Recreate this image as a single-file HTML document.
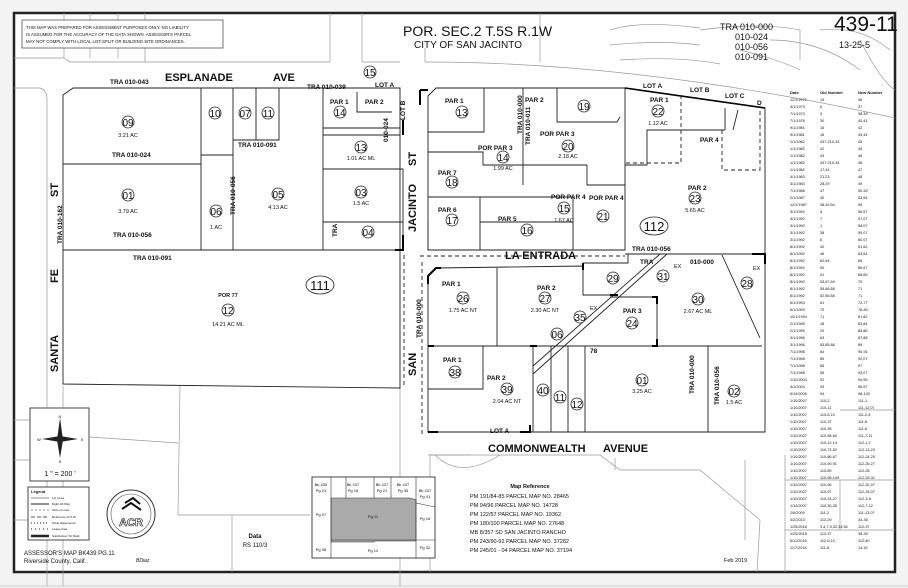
<!DOCTYPE html>
<html><head><meta charset="utf-8"><style>
html,body{margin:0;padding:0;background:#fff}
svg{display:block}
text{font-family:"Liberation Sans",sans-serif;fill:#111}
.b{font-weight:bold}
.s{font-size:4px}
.m{font-size:5.5px}
.n{font-size:10px}
.t{font-size:6.5px;font-weight:bold}
.thin{stroke:#999;stroke-width:.7;fill:none}
.ln{stroke:#222;stroke-width:.9;fill:none}
.hv{stroke:#000;stroke-width:2.5;fill:none}
.ds{stroke:#222;stroke-width:.9;fill:none;stroke-dasharray:4 3}
.c{fill:#fff;stroke:#222;stroke-width:.8}
</style></head><body>
<svg width="908" height="588" viewBox="0 0 908 588" xmlns="http://www.w3.org/2000/svg">
<rect width="908" height="588" fill="#f3f3f3"/>
<rect x="14" y="13" width="881" height="559" fill="#fff" stroke="#222" stroke-width="2.5"/>
<line x1="0" y1="586" x2="908" y2="586" stroke="#ccc"/>

<g class="thin">
<path d="M14,58 H64 V13 M90,13 V58 M118,13 V58 M64,58 L70,62 H145 V13 M145,62 H330 V13 M362,13 V62 H400"/>
<path d="M425,62 Q640,62 895,118"/>
<path d="M425,48 V62 M540,13 V62"/>
<path d="M610,30 Q640,20 700,28 M610,45 Q660,40 700,45 M620,60 Q680,56 720,64 M700,30 Q760,22 800,30 V60 M770,40 Q820,40 860,70 M820,30 Q860,25 890,50 M740,50 Q780,60 800,70 M860,40 Q880,80 895,90"/>
<path d="M14,88 H40 Q47,90 47,100 V586 M14,420 H47 M14,460 H47 M14,520 H47"/>
<path d="M63,386 V586 M180,386 L178,515 M90,437 L178,443 M178,515 H310 M232,515 V572"/>
<path d="M400,388 V586 M430,455 V572 M430,455 H470 M435,455 Q460,480 500,455"/>
<path d="M428,455 H600 L620,470 H700 L760,520 L757,572 M615,458 V470 M745,460 V540 M785,455 V572"/>
<path d="M785,480 H895 M785,530 H895 M840,480 V530 M840,410 H895"/>
</g>

<rect x="22" y="20" width="201" height="28" fill="#fff" stroke="#555" stroke-width=".8"/>
<text x="26" y="29" class="s" style="font-size:4.3px">THIS MAP WAS PREPARED FOR ASSESSMENT PURPOSES ONLY. NO LIABILITY</text>
<text x="26" y="36" class="s" style="font-size:4.3px">IS ASSUMED FOR THE ACCURACY OF THE DATA SHOWN. ASSESSOR'S PARCEL</text>
<text x="26" y="43" class="s" style="font-size:4.3px">MAY NOT COMPLY WITH LOCAL LOT-SPLIT OR BUILDING SITE ORDINANCES.</text>

<text x="403" y="36" style="font-size:14px">POR. SEC.2 T.5S R.1W</text>
<text x="414" y="48" style="font-size:10px">CITY OF SAN JACINTO</text>
<text x="720" y="30" style="font-size:9px">TRA 010-000</text>
<text x="735" y="40" style="font-size:9px">010-024</text>
<text x="735" y="50" style="font-size:9px">010-056</text>
<text x="735" y="60" style="font-size:9px">010-091</text>
<text x="834" y="31" style="font-size:21px">439-11</text>
<text x="839" y="48" style="font-size:9px">13-25-5</text>

<text x="165" y="81" class="b" style="font-size:11px">ESPLANADE</text>
<text x="273" y="81" class="b" style="font-size:11px">AVE</text>
<text x="58" y="197" class="b" style="font-size:11px" transform="rotate(-90 58 197)">ST</text>
<text x="58" y="283" class="b" style="font-size:11px" transform="rotate(-90 58 283)">FE</text>
<text x="58" y="372" class="b" style="font-size:11px" transform="rotate(-90 58 372)">SANTA</text>
<text x="416" y="232" class="b" style="font-size:11px" transform="rotate(-90 416 232)">JACINTO</text>
<text x="416" y="166" class="b" style="font-size:11px" transform="rotate(-90 416 166)">ST</text>
<text x="416" y="376" class="b" style="font-size:11px" transform="rotate(-90 416 376)">SAN</text>
<text x="505" y="259" class="b" style="font-size:11px">LA ENTRADA</text>
<text x="488" y="452" class="b" style="font-size:11px">COMMONWEALTH</text>
<text x="603" y="452" class="b" style="font-size:11px">AVENUE</text>
<line x1="420" y1="256" x2="625" y2="256" class="ds"/>
<line x1="422" y1="262" x2="422" y2="435" class="ds"/>
<line x1="404" y1="255" x2="404" y2="388" class="ds"/>

<g class="ln">
<path d="M63,95 L73,88 H400 V250 H63 Z"/>
<path d="M63,164 H201 M201,88 V250 M201,155 H233 M233,88 V250 M233,140 H279 V88 M256,88 V140 M323,88 V250 M323,128 H400 M323,135 H400 M323,169 H403 V250 M323,222 H403 M357,92 L357,112 H392"/>
<path d="M63,250 V384 L400,388 V250"/>
</g>
<text x="110" y="84" class="t">TRA 010-043</text>
<text x="307" y="89" class="t">TRA 010-039</text>
<text x="112" y="157" class="t">TRA 010-024</text>
<text x="113" y="237" class="t">TRA 010-056</text>
<text x="133" y="260" class="t">TRA 010-091</text>
<text x="238" y="147" class="t">TRA 010-091</text>
<text x="62" y="244" class="t" transform="rotate(-90 62 244)">TRA 010-162</text>
<text x="235" y="215" class="t" transform="rotate(-90 235 215)">TRA 010-056</text>
<text x="337" y="237" class="t" transform="rotate(-90 337 237)">TRA</text>
<text x="388" y="142" class="t" transform="rotate(-90 388 142)">010-024</text>
<text x="405" y="120" class="t" transform="rotate(-90 405 120)">LOT B</text>
<text x="330" y="104" class="t">PAR 1</text>
<text x="365" y="104" class="t">PAR 2</text>
<text x="375" y="87" class="t">LOT A</text>

<g class="c">
<circle cx="128" cy="122" r="6"/><circle cx="215" cy="113" r="6"/><circle cx="245" cy="113" r="6"/><circle cx="268" cy="113" r="6"/>
<circle cx="340" cy="112" r="6"/><circle cx="370" cy="72" r="6"/><circle cx="361" cy="147" r="6"/><circle cx="128" cy="195" r="6"/>
<circle cx="216" cy="211" r="6"/><circle cx="278" cy="194" r="6"/><circle cx="361" cy="192" r="6"/><circle cx="368" cy="232" r="6"/>
<circle cx="228" cy="310" r="6"/>
<ellipse cx="320" cy="285" rx="14" ry="9"/>
</g>
<g class="n" text-anchor="middle">
<text x="128" y="126">09</text><text x="215" y="117">10</text><text x="245" y="117">07</text><text x="268" y="117">11</text>
<text x="340" y="116">14</text><text x="370" y="76">15</text><text x="361" y="151">13</text><text x="128" y="199">01</text>
<text x="216" y="215">06</text><text x="278" y="198">05</text><text x="361" y="196">03</text><text x="368" y="236">04</text>
<text x="228" y="314">12</text><text x="320" y="290" style="font-size:13px">111</text>
</g>
<g class="m" text-anchor="middle">
<text x="128" y="137">3.21 AC</text><text x="128" y="213">3.79 AC</text><text x="216" y="229">1 AC</text><text x="278" y="209">4.13 AC</text>
<text x="361" y="160">1.01 AC ML</text><text x="361" y="205">1.5 AC</text><text x="228" y="297" class="b">POR 77</text><text x="228" y="326">14.21 AC ML</text>
</g>

<g class="ln">
<path d="M428,96 L436,88 H625 V250 H428 Z"/>
<path d="M428,132 H484 V88 M523,88 V165 H587 M557,88 V122 H617 L620,117 M587,165 V185 H625 M428,152 H483 V165 H523 M428,197 H480 V222 H523 M480,197 H573 M428,222 V250 M480,222 V250 M573,197 V250 M523,165 V185 M523,222 H573"/>
<path d="M625,88 L765,108 V254 H625 M625,165 H647 V130 H725 M725,108 V130 M738,110 L733,130"/>
</g>
<path d="M625,88 L765,108" stroke="#000" stroke-width="1.6" fill="none"/>
<g class="ds"><path d="M681,95 V163 H625 M722,130 V170 H760 V110"/></g>
<text x="445" y="103" class="t">PAR 1</text>
<text x="525" y="102" class="t">PAR 2</text>
<text x="478" y="150" class="t">POR PAR 3</text>
<text x="540" y="136" class="t">POR PAR 3</text>
<text x="438" y="175" class="t">PAR 7</text>
<text x="438" y="212" class="t">PAR 6</text>
<text x="498" y="221" class="t">PAR 5</text>
<text x="551" y="199" class="t">POR PAR 4</text>
<text x="589" y="200" class="t">POR PAR 4</text>
<text x="650" y="102" class="t">PAR 1</text>
<text x="700" y="142" class="t">PAR 4</text>
<text x="688" y="190" class="t">PAR 2</text>
<text x="643" y="88" class="t">LOT A</text>
<text x="690" y="92" class="t">LOT B</text>
<text x="725" y="98" class="t">LOT C</text>
<text x="757" y="105" class="t">D</text>
<text x="522" y="134" class="t" transform="rotate(-90 522 134)">TRA 010-000</text>
<text x="530" y="145" class="t" transform="rotate(-90 530 145)">TRA 010-011</text>
<text x="632" y="251" class="t">TRA 010-056</text>

<g class="c">
<circle cx="462" cy="112" r="6"/><circle cx="584" cy="106" r="6"/><circle cx="568" cy="146" r="6"/><circle cx="503" cy="157" r="6"/>
<circle cx="452" cy="182" r="6"/><circle cx="452" cy="220" r="6"/><circle cx="527" cy="230" r="6"/><circle cx="564" cy="208" r="6"/>
<circle cx="603" cy="216" r="6"/><circle cx="658" cy="111" r="6"/><circle cx="695" cy="198" r="6"/>
<ellipse cx="654" cy="226" rx="14" ry="9"/>
</g>
<g class="n" text-anchor="middle">
<text x="462" y="116">13</text><text x="584" y="110">19</text><text x="568" y="150">20</text><text x="503" y="161">14</text>
<text x="452" y="186">18</text><text x="452" y="224">17</text><text x="527" y="234">16</text><text x="564" y="212">15</text>
<text x="603" y="220">21</text><text x="658" y="115">22</text><text x="695" y="202">23</text><text x="654" y="231" style="font-size:13px">112</text>
</g>
<g class="m" text-anchor="middle">
<text x="568" y="158">2.18 AC</text><text x="503" y="170">1.99 AC</text><text x="564" y="222">1.67 AC</text><text x="658" y="125">1.12 AC</text><text x="695" y="212">5.65 AC</text>
</g>

<!-- lower block -->
<g class="ln">
<path d="M428,276 L436,268 L583,266 M583,263 V295 H610 M583,263 H628 V254 H765 V432 H428 V276"/>
<path d="M497,268 V346 M428,346 H762 M610,297 H657 V346 M483,346 V389 H428 M533,346 V432 M551,346 V432 M568,346 V432 M585,346 V432 M708,346 V432 M722,255 L760,338"/>
<path d="M533,374 L667,254 M533,366 L660,254"/>
</g>
<path d="M428,284 V276 L436,268 H441 M583,263 V270 M610,295 H618 M652,297 H657 V304 M652,346 H657 V339 M428,432 H438 M530,425 V432 H520 M395,250 H403 V235 M420,90 V105 M420,90 H428 M403,120 V135 M428,346 H434 M530,346 H537 M752,254 H765 V264" class="hv" style="stroke-width:2"/>
<text x="442" y="286" class="t">PAR 1</text>
<text x="537" y="290" class="t">PAR 2</text>
<text x="623" y="313" class="t">PAR 3</text>
<text x="443" y="362" class="t">PAR 1</text>
<text x="487" y="380" class="t">PAR 2</text>
<text x="640" y="264" class="t">TRA</text>
<text x="690" y="264" class="t">010-000</text>
<text x="490" y="433" class="t">LOT A</text>
<text x="590" y="353" class="t">78</text>
<text x="590" y="310" class="m">EX</text><text x="674" y="268" class="m">EX</text><text x="753" y="270" class="m">EX</text>
<text x="694" y="394" class="t" transform="rotate(-90 694 394)">TRA 010-000</text>
<text x="719" y="405" class="t" transform="rotate(-90 719 405)">TRA 010-056</text>
<text x="421" y="338" class="t" transform="rotate(-90 421 338)">TRA 010-000</text>
<g class="c">
<circle cx="463" cy="298" r="6"/><circle cx="545" cy="298" r="6"/><circle cx="613" cy="278" r="6"/><circle cx="663" cy="276" r="6"/>
<circle cx="698" cy="299" r="6"/><circle cx="747" cy="283" r="6"/><circle cx="580" cy="317" r="6"/><circle cx="632" cy="323" r="6"/>
<circle cx="557" cy="334" r="6"/><circle cx="455" cy="372" r="6"/><circle cx="507" cy="389" r="6"/><circle cx="543" cy="390" r="6"/>
<circle cx="560" cy="397" r="6"/><circle cx="577" cy="404" r="6"/><circle cx="642" cy="380" r="6"/><circle cx="734" cy="391" r="6"/>
</g>
<g class="n" text-anchor="middle">
<text x="463" y="302">26</text><text x="545" y="302">27</text><text x="613" y="282">29</text><text x="663" y="280">31</text>
<text x="698" y="303">30</text><text x="747" y="287">28</text><text x="580" y="321">35</text><text x="632" y="327">24</text>
<text x="557" y="338">06</text><text x="455" y="376">38</text><text x="507" y="393">39</text><text x="543" y="394">40</text>
<text x="560" y="401">11</text><text x="577" y="408">12</text><text x="642" y="384">01</text><text x="734" y="395">02</text>
</g>
<g class="m" text-anchor="middle">
<text x="463" y="312">1.75 AC NT</text><text x="545" y="312">2.30 AC NT</text><text x="698" y="313">2.67 AC ML</text>
<text x="507" y="403">2.04 AC NT</text><text x="642" y="393">3.25 AC</text><text x="734" y="404">1.5 AC</text>
</g>

<text x="790" y="94" class="s" style="font-weight:bold">Date</text>
<text x="820" y="94" class="s" style="font-weight:bold">Old Number</text>
<text x="858" y="94" class="s" style="font-weight:bold">New Number</text>
<g class="s" style="font-size:3.8px">
<text x="790" y="101">11/1/1972</text><text x="820" y="101">19</text><text x="858" y="101">36</text>
<text x="790" y="108">3/1/1973</text><text x="820" y="108">6</text><text x="858" y="108">37</text>
<text x="790" y="115">7/1/1973</text><text x="820" y="115">3</text><text x="858" y="115">38,39</text>
<text x="790" y="122">7/1/1978</text><text x="820" y="122">30</text><text x="858" y="122">40,41</text>
<text x="790" y="129">9/1/1981</text><text x="820" y="129">16</text><text x="858" y="129">42</text>
<text x="790" y="136">9/1/1981</text><text x="820" y="136">16</text><text x="858" y="136">43,44</text>
<text x="790" y="143">1/1/1982</text><text x="820" y="143">437-210-33</text><text x="858" y="143">45</text>
<text x="790" y="150">1/1/1982</text><text x="820" y="150">42</text><text x="858" y="150">45</text>
<text x="790" y="157">1/1/1982</text><text x="820" y="157">43</text><text x="858" y="157">46</text>
<text x="790" y="164">1/1/1982</text><text x="820" y="164">437-210-34</text><text x="858" y="164">46</text>
<text x="790" y="171">1/1/1982</text><text x="820" y="171">17,41</text><text x="858" y="171">47</text>
<text x="790" y="178">4/1/1983</text><text x="820" y="178">21,23</text><text x="858" y="178">48</text>
<text x="790" y="185">4/1/1983</text><text x="820" y="185">28,29</text><text x="858" y="185">49</text>
<text x="790" y="192">7/1/1986</text><text x="820" y="192">47</text><text x="858" y="192">50-52</text>
<text x="790" y="199">2/1/1987</text><text x="820" y="199">40</text><text x="858" y="199">53,54</text>
<text x="790" y="206">12/1/1987</text><text x="820" y="206">48,49,54</text><text x="858" y="206">55</text>
<text x="790" y="213">3/1/1992</text><text x="820" y="213">4</text><text x="858" y="213">56,57</text>
<text x="790" y="220">3/1/1992</text><text x="820" y="220">7</text><text x="858" y="220">57,07</text>
<text x="790" y="227">3/1/1992</text><text x="820" y="227">1</text><text x="858" y="227">58,07</text>
<text x="790" y="234">3/1/1992</text><text x="820" y="234">38</text><text x="858" y="234">59,07</text>
<text x="790" y="241">3/1/1992</text><text x="820" y="241">6</text><text x="858" y="241">60,07</text>
<text x="790" y="248">8/1/1992</text><text x="820" y="248">40</text><text x="858" y="248">61,62</text>
<text x="790" y="255">8/1/1992</text><text x="820" y="255">46</text><text x="858" y="255">63,64</text>
<text x="790" y="262">8/1/1992</text><text x="820" y="262">62,64</text><text x="858" y="262">65</text>
<text x="790" y="269">8/1/1992</text><text x="820" y="269">50</text><text x="858" y="269">66,67</text>
<text x="790" y="276">8/1/1992</text><text x="820" y="276">51</text><text x="858" y="276">68,69</text>
<text x="790" y="283">8/1/1992</text><text x="820" y="283">53,67,69</text><text x="858" y="283">70</text>
<text x="790" y="290">8/1/1992</text><text x="820" y="290">55,66,68</text><text x="858" y="290">71</text>
<text x="790" y="297">8/1/1992</text><text x="820" y="297">52,56,58</text><text x="858" y="297">71</text>
<text x="790" y="304">6/1/1993</text><text x="820" y="304">61</text><text x="858" y="304">72-77</text>
<text x="790" y="311">6/1/1993</text><text x="820" y="311">70</text><text x="858" y="311">78-80</text>
<text x="790" y="318">10/1/1994</text><text x="820" y="318">71</text><text x="858" y="318">81,82</text>
<text x="790" y="325">2/1/1995</text><text x="820" y="325">18</text><text x="858" y="325">83,84</text>
<text x="790" y="332">2/1/1995</text><text x="820" y="332">20</text><text x="858" y="332">85,86</text>
<text x="790" y="339">3/1/1996</text><text x="820" y="339">63</text><text x="858" y="339">87,88</text>
<text x="790" y="346">3/1/1996</text><text x="820" y="346">83,85,88</text><text x="858" y="346">89</text>
<text x="790" y="353">7/1/1998</text><text x="820" y="353">84</text><text x="858" y="353">90-91</text>
<text x="790" y="360">7/1/1998</text><text x="820" y="360">89</text><text x="858" y="360">92,07</text>
<text x="790" y="367">7/1/1998</text><text x="820" y="367">65</text><text x="858" y="367">07</text>
<text x="790" y="374">7/1/1998</text><text x="820" y="374">55</text><text x="858" y="374">93,07</text>
<text x="790" y="381">1/10/2004</text><text x="820" y="381">92</text><text x="858" y="381">94,95</text>
<text x="790" y="388">3/1/2004</text><text x="820" y="388">93</text><text x="858" y="388">96,97</text>
<text x="790" y="395">6/19/2006</text><text x="820" y="395">94</text><text x="858" y="395">98-100</text>
<text x="790" y="402">1/10/2007</text><text x="820" y="402">110-2</text><text x="858" y="402">111-1</text>
<text x="790" y="409">1/10/2007</text><text x="820" y="409">110-11</text><text x="858" y="409">111-12,07</text>
<text x="790" y="416">1/10/2007</text><text x="820" y="416">110-8-10</text><text x="858" y="416">111-2-4</text>
<text x="790" y="423">1/10/2007</text><text x="820" y="423">110-37</text><text x="858" y="423">111-5</text>
<text x="790" y="430">1/10/2007</text><text x="820" y="430">110-39</text><text x="858" y="430">111-6</text>
<text x="790" y="437">1/10/2007</text><text x="820" y="437">110-58-60</text><text x="858" y="437">111-7-11</text>
<text x="790" y="444">1/10/2007</text><text x="820" y="444">110-12,14</text><text x="858" y="444">112-1,2</text>
<text x="790" y="451">1/10/2007</text><text x="820" y="451">110-72-82</text><text x="858" y="451">112-13-23</text>
<text x="790" y="458">1/10/2007</text><text x="820" y="458">110-86,87</text><text x="858" y="458">112-24,25</text>
<text x="790" y="465">1/10/2007</text><text x="820" y="465">110-90,91</text><text x="858" y="465">112-26,27</text>
<text x="790" y="472">1/10/2007</text><text x="820" y="472">110-89</text><text x="858" y="472">112-28</text>
<text x="790" y="479">1/10/2007</text><text x="820" y="479">110-98-100</text><text x="858" y="479">112-29-31</text>
<text x="790" y="486">1/10/2007</text><text x="820" y="486">110-96</text><text x="858" y="486">112-32,07</text>
<text x="790" y="493">1/10/2007</text><text x="820" y="493">110-97</text><text x="858" y="493">112-33,07</text>
<text x="790" y="500">1/10/2007</text><text x="820" y="500">110-24-27</text><text x="858" y="500">112-3-6</text>
<text x="790" y="507">1/10/2007</text><text x="820" y="507">110-30-35</text><text x="858" y="507">112-7-12</text>
<text x="790" y="514">2/6/2009</text><text x="820" y="514">111-2</text><text x="858" y="514">111-13,07</text>
<text x="790" y="521">4/2/2013</text><text x="820" y="521">112-29</text><text x="858" y="521">34-36</text>
<text x="790" y="528">1/25/2018</text><text x="820" y="528">3,4,7-9,32,34,36</text><text x="858" y="528">112-37</text>
<text x="790" y="535">1/25/2018</text><text x="820" y="535">112-37</text><text x="858" y="535">38-39</text>
<text x="790" y="542">5/11/2018</text><text x="820" y="542">112-6,10</text><text x="858" y="542">112-40</text>
<text x="790" y="549">11/7/2018</text><text x="820" y="549">111-8</text><text x="858" y="549">14,15</text>
</g>

<rect x="30" y="408" width="59" height="73" fill="#fff" stroke="#333" stroke-width=".9"/>
<path d="M60,418 L63,440 L60,458 L57,440 Z M42,439 L60,436 L78,439 L60,442 Z" fill="#222"/>
<text x="60" y="418" class="s" text-anchor="middle">N</text>
<text x="37" y="441" class="s">W</text><text x="81" y="441" class="s">E</text>
<text x="60" y="463" class="s" text-anchor="middle">S</text>
<text x="60" y="476" style="font-size:7px" text-anchor="middle">1 " = 200 '</text>
<rect x="28" y="487" width="61" height="53" fill="#fff" stroke="#333" stroke-width=".9"/>
<text x="31" y="493" class="s b">Legend</text>
<g stroke="#222"><line x1="31" y1="498" x2="49" y2="498" stroke-width=".5"/><line x1="31" y1="504" x2="49" y2="504" stroke-width="1"/><line x1="31" y1="510" x2="49" y2="510" stroke-dasharray="2 2" stroke-width=".5"/><line x1="31" y1="517" x2="49" y2="517" stroke-dasharray="4 2" stroke-width=".8"/><line x1="31" y1="523" x2="49" y2="523" stroke-dasharray="1 2"/><line x1="31" y1="529" x2="49" y2="529" stroke-dasharray="1 3"/><line x1="31" y1="536" x2="49" y2="536" stroke-width="2.5"/></g>
<g style="font-size:3px"><text x="52" y="499">Lot Lines</text><text x="52" y="505">Right-Of-Way</text><text x="52" y="511">Old Lot Lines</text><text x="52" y="518">Reference R.O.W.</text><text x="52" y="524">Other Easements</text><text x="52" y="530">Lease Area</text><text x="52" y="537">Subdivision Tic Mark</text></g>
<circle cx="131" cy="514" r="24" fill="#fff" stroke="#333" stroke-width="1"/>
<circle cx="131" cy="514" r="20" fill="none" stroke="#555" stroke-width=".6"/>
<path d="M125,503 L133,498 L140,504 M122,509 L131,503 L141,510" stroke="#111" stroke-width="2" fill="none"/>
<text x="131" y="526" text-anchor="middle" class="b" style="font-size:11px;fill:#fff;stroke:#111;stroke-width:.6">ACR</text>
<text x="24" y="555" style="font-size:6px">ASSESSOR'S MAP BK439 PG.11</text>
<text x="24" y="563" style="font-size:6px">Riverside County, Calif.</text>
<text x="136" y="562" style="font-size:5px;font-style:italic">BDiaz</text>
<text x="255" y="538" class="b" style="font-size:6px" text-anchor="middle">Data</text>
<text x="255" y="547" style="font-size:6px" text-anchor="middle">RS 110/3</text>

<rect x="312" y="477" width="123" height="81" fill="#fff" stroke="#333" stroke-width=".9"/>
<path d="M331,498 H410 L416,500 V541 H374 V542 H331 Z" fill="#aaa" stroke="#333" stroke-width=".6"/>
<g stroke="#333" stroke-width=".6" fill="none"><path d="M331,477 V558 M331,540 H435 M416,477 V558 M346,477 V498 M374,477 V498 M391,477 V498 M416,503 L435,507"/></g>
<g style="font-size:4px" text-anchor="middle">
<text x="321" y="486">Bk 435</text><text x="321" y="492">Pg 21</text>
<text x="353" y="486">Bk 437</text><text x="353" y="492">Pg 18</text>
<text x="382" y="486">Bk 437</text><text x="382" y="492">Pg 21</text>
<text x="403" y="486">Bk 437</text><text x="403" y="492">Pg 35</text>
<text x="425" y="492">Bk 437</text><text x="425" y="498">Pg 41</text>
<text x="321" y="516">Pg 07</text><text x="373" y="518">Pg 11</text><text x="425" y="520">Pg 18</text>
<text x="321" y="551">Pg 08</text><text x="373" y="552">Pg 12</text><text x="425" y="549">Pg 32</text>
</g>

<text x="530" y="488" class="b" style="font-size:5.5px" text-anchor="middle">Map Reference</text>
<g style="font-size:5.5px">
<text x="470" y="498">PM 191/84-85  PARCEL MAP NO. 28465</text>
<text x="470" y="507">PM 94/96  PARCEL MAP NO. 14728</text>
<text x="470" y="516">PM 122/57  PARCEL MAP NO. 19362</text>
<text x="470" y="525">PM 180/100  PARCEL MAP NO. 27648</text>
<text x="470" y="534">MB 8/357  SD SAN JACINTO RANCHO</text>
<text x="470" y="543">PM 243/90-92  PARCEL MAP NO. 37282</text>
<text x="470" y="552">PM 245/01 - 04  PARCEL MAP NO. 37194</text>
</g>
<text x="724" y="562" style="font-size:5.5px">Feb 2019</text>
</svg>
</body></html>
